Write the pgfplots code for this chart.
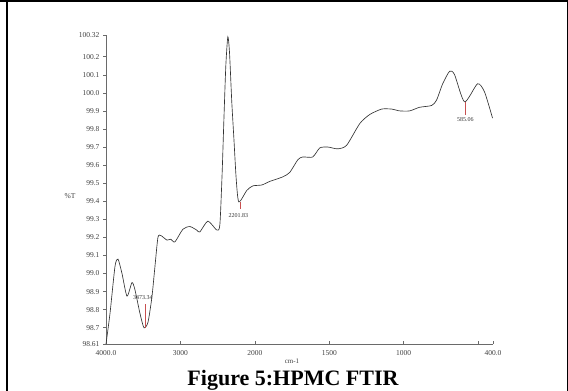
\documentclass[border=0pt]{standalone}
\usepackage{pgfplots}
\pgfplotsset{compat=1.18}
\usepackage{fontspec}
\setmainfont{Liberation Serif}
\definecolor{axgray}{HTML}{6A6A6A}
\definecolor{pkred}{HTML}{C85050}
\begin{document}
\begin{tikzpicture}[x=1pt,y=1pt]
\useasboundingbox (0,0) rectangle (568,391);
\fill[black] (0,389) rectangle (568,391);
\fill[black] (5.5,0) rectangle (7.5,391);
\draw[black,line width=0.8pt] (567.4,0) -- (567.4,391);
\begin{axis}[
  at={(106pt,47pt)}, anchor=south west,
  scale only axis, width=387pt, height=309pt,
  x coord trafo/.code={\pgfmathparse{#1>=2000 ? 4000-#1 : 6000-2*#1}},
  x coord inv trafo/.code={\pgfmathparse{#1<=2000 ? 4000-#1 : (6000-#1)/2}},
  xmin=4000, xmax=400, ymin=98.61, ymax=100.32,
  axis x line=bottom, axis y line=left,
  axis line style={-, axgray, line width=0.6pt},
  xtick={4000,3000,2000,1500,1000,500,400},
  xticklabels={4000.0,3000,2000,1500,1000,,400.0},
  ytick={98.61,98.7,98.8,98.9,99.0,99.1,99.2,99.3,99.4,99.5,99.6,99.7,99.8,99.9,100.0,100.1,100.2,100.32},
  yticklabels={98.61,98.7,98.8,98.9,99.0,99.1,99.2,99.3,99.4,99.5,99.6,99.7,99.8,99.9,100.0,100.1,100.2,100.32},
  xtick align=inside, ytick align=outside,
  major tick length=3pt,
  tick style={axgray, line width=0.5pt},
  tick label style={font=\fontsize{7.5}{8}\selectfont, text=black!75},
  xticklabel style={yshift=-2.5pt},
  /pgf/number format/assume math mode=true,
  clip=false,
]
\addplot[black!80, line width=0.65pt, smooth, tension=0.4] coordinates {
(4000,98.61) (3946,98.78) (3879,99.04) (3839,99.08) (3785,99.00)
(3718,98.875) (3651,98.95) (3611,98.91) (3544,98.78) (3490,98.70)
(3436,98.73) (3383,98.87) (3342,99.04) (3302,99.20) (3262,99.21)
(3181,99.185) (3128,99.19) (3074,99.175) (2967,99.245) (2873,99.26)
(2779,99.24) (2739,99.23) (2631,99.29) (2510,99.24) (2470,99.27)
(2440,99.55) (2416,99.85) (2390,100.15) (2363,100.31) (2340,100.22)
(2310,99.95) (2282,99.75) (2250,99.52) (2215,99.396) (2108,99.46)
(2027,99.485) (1953,99.49) (1899,99.51) (1812,99.535) (1765,99.56)
(1711,99.63) (1678,99.645) (1611,99.645) (1564,99.695) (1510,99.70)
(1443,99.69) (1383,99.71) (1295,99.83) (1228,99.88) (1148,99.91)
(1081,99.91) (1027,99.90) (960,99.90) (893,99.92) (812,99.93)
(779,99.96) (738,100.05) (691,100.12) (658,100.10) (591,99.95)
(504,100.05) (457,100.005) (403,99.86)
};
\draw[pkred, line width=0.5pt] (axis cs:3473.34,98.70) -- (axis cs:3473.34,98.83);
\node[font=\fontsize{6}{6}\selectfont, text=black!80] at (axis cs:3505,98.865) {3473.34};
\draw[pkred, line width=0.5pt] (axis cs:2201.83,99.396) -- (axis cs:2201.83,99.355);
\node[font=\fontsize{6}{6}\selectfont, text=black!80] at (axis cs:2222,99.322) {2201.83};
\draw[pkred, line width=0.5pt] (axis cs:585.06,99.95) -- (axis cs:585.06,99.877);
\node[font=\fontsize{6}{6}\selectfont, text=black!80] at (axis cs:585.06,99.85) {585.06};
\end{axis}
\node[font=\fontsize{7.5}{8}\selectfont, text=black!75] at (70,195) {\%T};
\node[font=\fontsize{7}{7}\selectfont, text=black!75, inner sep=0.5pt] at (292,29.5) {cm-1};
\node[font=\fontsize{22}{22}\selectfont\bfseries, anchor=base] at (293,5.5) {Figure 5:HPMC FTIR};
\end{tikzpicture}
\end{document}
